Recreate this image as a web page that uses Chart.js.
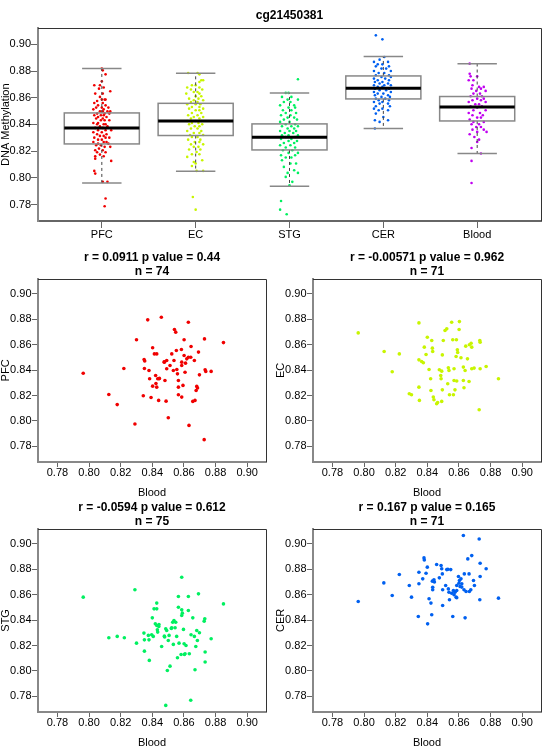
<!DOCTYPE html>
<html lang="en">
<head>
<meta charset="UTF-8" />
<title>cg21450381</title>
<script src="https://cdn.jsdelivr.net/npm/chart.js"></script>
<style>
    body { margin: 0; background: #fff; }
    #wrap { position: relative; width: 550px; height: 750px; }
    #wrap canvas { position: absolute; }
</style>
</head>
<body>
<div id="wrap">
    <canvas id="boxChart" width="550" height="245" style="left:0;top:0;width:550px;height:245px"></canvas>
    <canvas id="sc0" width="275" height="250" style="left:0;top:250px;width:275px;height:250px"></canvas>
    <canvas id="sc1" width="275" height="250" style="left:275px;top:250px;width:275px;height:250px"></canvas>
    <canvas id="sc2" width="275" height="250" style="left:0;top:500px;width:275px;height:250px"></canvas>
    <canvas id="sc3" width="275" height="250" style="left:275px;top:500px;width:275px;height:250px"></canvas>
</div>
<script>
// ---- data ----
const probe = 'cg21450381';
const categories = ['PFC', 'EC', 'STG', 'CER', 'Blood'];
const groupColors = ['#F00000', '#C8F500', '#00F060', '#0060F0', '#C000F0'];

const boxMin = [0.7962, 0.8049, 0.7937, 0.8369, 0.8182];
const boxQ1 = [0.8254, 0.8317, 0.8209, 0.8591, 0.8426];
const boxMedian = [0.8374, 0.8426, 0.8304, 0.8671, 0.8531];
const boxQ3 = [0.8486, 0.8558, 0.8404, 0.8763, 0.8609];
const boxMax = [0.8818, 0.8783, 0.8636, 0.8908, 0.8855];

const valueTicks = [0.78, 0.80, 0.82, 0.84, 0.86, 0.88, 0.90];
const valueMin = 0.7677;
const valueMax = 0.9119;

// jittered strip points: [x offset from group centre, methylation]
const pfcPoints = [
    [0.00, 0.8818], [0.01, 0.8805], [0.04, 0.8775], [0.00, 0.8723], [-0.08, 0.8693], [-0.02, 0.8693],
    [0.02, 0.8676], [-0.03, 0.8668], [0.09, 0.8648], [-0.07, 0.8631], [0.01, 0.8631], [-0.02, 0.8606],
    [0.00, 0.8586], [0.03, 0.8586], [0.04, 0.8586], [-0.05, 0.8576], [-0.08, 0.8561], [0.01, 0.8561],
    [-0.04, 0.8543], [0.04, 0.8543], [-0.06, 0.8526], [0.00, 0.8526], [0.07, 0.8526], [-0.09, 0.8513],
    [0.02, 0.8513], [-0.02, 0.8498], [0.01, 0.8498], [0.06, 0.8498], [0.09, 0.8498], [-0.05, 0.8481],
    [0.03, 0.8481], [0.08, 0.8481], [-0.08, 0.8469], [-0.01, 0.8469], [0.02, 0.8469], [-0.04, 0.8456],
    [0.05, 0.8456], [-0.06, 0.8444], [0.01, 0.8444], [-0.01, 0.8431], [0.03, 0.8431], [0.08, 0.8431],
    [-0.09, 0.8411], [-0.04, 0.8411], [-0.05, 0.8401], [0.02, 0.8401], [0.04, 0.8401], [-0.02, 0.8386],
    [0.06, 0.8386], [-0.07, 0.8374], [0.01, 0.8374], [-0.04, 0.8356], [0.04, 0.8356], [0.10, 0.8356],
    [-0.09, 0.8341], [0.00, 0.8341], [-0.05, 0.8326], [0.05, 0.8326], [-0.02, 0.8314], [0.02, 0.8314],
    [-0.08, 0.8301], [0.04, 0.8301], [0.08, 0.8301], [-0.04, 0.8286], [0.00, 0.8286], [-0.09, 0.8269],
    [0.02, 0.8269], [0.05, 0.8269], [-0.04, 0.8256], [0.07, 0.8256], [-0.06, 0.8244], [-0.01, 0.8244],
    [0.03, 0.8232], [0.09, 0.8232], [-0.03, 0.8219], [-0.07, 0.8207], [0.01, 0.8207], [-0.05, 0.8192],
    [0.04, 0.8192], [-0.02, 0.8174], [-0.07, 0.8162], [0.02, 0.8162], [-0.07, 0.8144], [0.10, 0.8127],
    [-0.08, 0.8052], [-0.07, 0.8032], [0.01, 0.7970], [0.06, 0.7970], [0.04, 0.7845], [0.03, 0.7787]
];
const ecPoints = [
    [-0.08, 0.8785], [0.02, 0.8785], [0.04, 0.8775], [0.08, 0.8731], [0.06, 0.8731], [0.04, 0.8718],
    [-0.04, 0.8693], [0.00, 0.8693], [-0.09, 0.8676], [0.04, 0.8676], [-0.05, 0.8661], [0.07, 0.8661],
    [-0.02, 0.8643], [0.02, 0.8643], [-0.10, 0.8631], [0.04, 0.8631], [0.00, 0.8611], [0.06, 0.8611],
    [-0.07, 0.8593], [0.03, 0.8593], [-0.02, 0.8581], [0.08, 0.8581], [-0.05, 0.8568], [0.02, 0.8568],
    [-0.09, 0.8551], [0.00, 0.8551], [0.05, 0.8551], [-0.04, 0.8531], [0.04, 0.8531], [-0.07, 0.8518],
    [0.08, 0.8518], [0.00, 0.8506], [0.04, 0.8506], [-0.04, 0.8486], [0.06, 0.8486], [-0.08, 0.8469],
    [0.02, 0.8469], [-0.02, 0.8456], [0.08, 0.8456], [-0.05, 0.8444], [0.04, 0.8444], [-0.09, 0.8426],
    [0.00, 0.8426], [0.06, 0.8426], [-0.04, 0.8411], [0.03, 0.8411], [-0.07, 0.8401], [0.07, 0.8401],
    [-0.01, 0.8386], [0.04, 0.8386], [-0.05, 0.8369], [0.02, 0.8369], [-0.09, 0.8351], [0.06, 0.8351],
    [-0.02, 0.8336], [0.04, 0.8336], [-0.06, 0.8321], [0.08, 0.8321], [-0.04, 0.8306], [0.02, 0.8306],
    [-0.08, 0.8286], [0.05, 0.8286], [-0.01, 0.8269], [0.04, 0.8269], [-0.05, 0.8251], [0.08, 0.8251],
    [-0.02, 0.8232], [0.03, 0.8232], [-0.07, 0.8212], [0.05, 0.8212], [0.01, 0.8194], [-0.04, 0.8177],
    [0.04, 0.8177], [-0.09, 0.8157], [0.07, 0.8132], [-0.02, 0.8119], [0.00, 0.8107], [-0.04, 0.8089],
    [0.01, 0.8052], [0.08, 0.8052], [-0.03, 0.7857], [0.00, 0.7762]
];
const stgPoints = [
    [0.09, 0.8738], [-0.04, 0.8636], [-0.01, 0.8636], [-0.08, 0.8606], [0.02, 0.8606], [-0.02, 0.8586],
    [0.09, 0.8586], [-0.06, 0.8568], [0.01, 0.8568], [-0.10, 0.8543], [0.05, 0.8543], [-0.01, 0.8526],
    [0.06, 0.8526], [-0.07, 0.8506], [0.02, 0.8506], [-0.04, 0.8486], [0.07, 0.8486], [-0.09, 0.8469],
    [0.01, 0.8469], [0.05, 0.8451], [-0.02, 0.8451], [-0.06, 0.8436], [0.08, 0.8436], [0.00, 0.8419],
    [-0.10, 0.8419], [-0.04, 0.8401], [0.06, 0.8401], [-0.08, 0.8386], [0.02, 0.8386], [0.09, 0.8386],
    [-0.02, 0.8369], [0.05, 0.8369], [-0.10, 0.8351], [0.00, 0.8351], [0.07, 0.8351], [-0.05, 0.8336],
    [0.04, 0.8336], [-0.08, 0.8319], [-0.01, 0.8319], [0.09, 0.8319], [-0.04, 0.8306], [0.06, 0.8306],
    [-0.09, 0.8291], [0.02, 0.8291], [-0.01, 0.8276], [0.08, 0.8276], [-0.06, 0.8261], [0.05, 0.8261],
    [-0.10, 0.8244], [0.01, 0.8244], [-0.04, 0.8227], [0.06, 0.8227], [-0.07, 0.8207], [0.03, 0.8207],
    [-0.01, 0.8187], [0.09, 0.8187], [-0.09, 0.8169], [0.06, 0.8169], [-0.04, 0.8152], [0.02, 0.8152],
    [-0.08, 0.8132], [0.01, 0.8107], [0.07, 0.8107], [-0.06, 0.8082], [0.05, 0.8057], [-0.02, 0.8037],
    [0.09, 0.8037], [-0.04, 0.8007], [0.03, 0.7970], [0.00, 0.7945], [-0.09, 0.7827], [-0.10, 0.7762],
    [-0.03, 0.7728]
];
const cerPoints = [
    [-0.08, 0.9067], [-0.01, 0.9037], [0.01, 0.8905], [-0.04, 0.8885], [-0.10, 0.8868], [0.05, 0.8868],
    [-0.06, 0.8850], [-0.01, 0.8850], [0.06, 0.8835], [-0.08, 0.8835], [-0.02, 0.8818], [0.03, 0.8818],
    [-0.10, 0.8800], [0.08, 0.8800], [-0.05, 0.8785], [0.01, 0.8785], [-0.08, 0.8768], [0.06, 0.8768],
    [-0.02, 0.8755], [0.08, 0.8755], [-0.10, 0.8743], [0.02, 0.8743], [-0.06, 0.8731], [0.06, 0.8731],
    [-0.01, 0.8718], [-0.09, 0.8718], [-0.04, 0.8706], [0.05, 0.8706], [-0.10, 0.8693], [0.01, 0.8693],
    [0.08, 0.8693], [-0.06, 0.8681], [-0.01, 0.8681], [-0.09, 0.8668], [0.06, 0.8668], [-0.04, 0.8656],
    [0.03, 0.8656], [-0.10, 0.8643], [0.08, 0.8643], [-0.06, 0.8631], [0.00, 0.8631], [-0.09, 0.8618],
    [0.05, 0.8618], [-0.02, 0.8606], [0.07, 0.8606], [-0.08, 0.8593], [0.02, 0.8593], [-0.05, 0.8581],
    [0.06, 0.8581], [-0.10, 0.8568], [-0.01, 0.8568], [-0.04, 0.8556], [0.05, 0.8556], [-0.08, 0.8536],
    [0.07, 0.8536], [-0.10, 0.8518], [-0.01, 0.8518], [-0.05, 0.8506], [0.05, 0.8506], [-0.08, 0.8481],
    [0.00, 0.8456], [-0.09, 0.8431], [0.05, 0.8431], [-0.04, 0.8419], [-0.09, 0.8369]
];
const bloodPoints = [
    [-0.08, 0.8855], [-0.08, 0.8780], [-0.07, 0.8760], [0.00, 0.8760], [-0.09, 0.8731], [-0.04, 0.8731],
    [-0.05, 0.8693], [0.02, 0.8681], [0.07, 0.8681], [-0.06, 0.8668], [0.04, 0.8668], [-0.01, 0.8651],
    [0.09, 0.8651], [-0.04, 0.8631], [0.03, 0.8631], [-0.07, 0.8611], [0.05, 0.8611], [0.00, 0.8593],
    [0.07, 0.8593], [-0.05, 0.8581], [0.04, 0.8581], [-0.09, 0.8568], [0.09, 0.8568], [-0.02, 0.8551],
    [0.02, 0.8551], [-0.07, 0.8536], [0.05, 0.8536], [0.00, 0.8526], [-0.04, 0.8506], [0.09, 0.8506],
    [-0.09, 0.8486], [0.03, 0.8486], [-0.05, 0.8469], [0.06, 0.8469], [0.00, 0.8451], [0.04, 0.8451],
    [-0.08, 0.8436], [-0.04, 0.8419], [0.07, 0.8419], [-0.06, 0.8401], [0.02, 0.8401], [-0.01, 0.8381],
    [0.04, 0.8381], [-0.05, 0.8361], [0.07, 0.8361], [0.00, 0.8344], [0.10, 0.8344], [-0.08, 0.8326],
    [-0.03, 0.8306], [0.02, 0.8286], [0.00, 0.8269], [-0.06, 0.8224], [0.04, 0.8182], [-0.06, 0.8127],
    [-0.06, 0.7962]
];
const stripPoints = [pfcPoints, ecPoints, stgPoints, cerPoints, bloodPoints];

// scatter panels: [Blood, region]
const pfcVsBlood = [
    [0.7963, 0.8376], [0.8125, 0.8208], [0.8178, 0.8129], [0.8220, 0.8413], [0.8290, 0.7976], [0.8300, 0.8639],
    [0.8343, 0.8198], [0.8348, 0.8484], [0.8352, 0.8472], [0.8350, 0.8413], [0.8371, 0.8796], [0.8379, 0.8397],
    [0.8383, 0.8332], [0.8392, 0.8185], [0.8402, 0.8576], [0.8402, 0.8274], [0.8413, 0.8528], [0.8428, 0.8528],
    [0.8421, 0.8358], [0.8423, 0.8295], [0.8428, 0.8266], [0.8434, 0.8332], [0.8442, 0.8332], [0.8440, 0.8162],
    [0.8457, 0.8816], [0.8476, 0.8463], [0.8480, 0.8319], [0.8487, 0.8156], [0.8491, 0.8476], [0.8491, 0.8411],
    [0.8501, 0.8025], [0.8512, 0.8437], [0.8523, 0.8528], [0.8533, 0.8397], [0.8537, 0.8476], [0.8540, 0.8720],
    [0.8548, 0.8699], [0.8552, 0.8555], [0.8559, 0.8371], [0.8565, 0.8319], [0.8565, 0.8266], [0.8565, 0.8206],
    [0.8584, 0.8563], [0.8586, 0.8463], [0.8586, 0.8437], [0.8586, 0.8188], [0.8594, 0.8280], [0.8601, 0.8515],
    [0.8601, 0.8639], [0.8607, 0.8384], [0.8618, 0.8489], [0.8628, 0.8502], [0.8628, 0.8777], [0.8632, 0.7965],
    [0.8643, 0.8502], [0.8645, 0.8586], [0.8656, 0.8154], [0.8666, 0.8476], [0.8670, 0.8162], [0.8677, 0.8240],
    [0.8681, 0.8272], [0.8686, 0.8260], [0.8692, 0.8542], [0.8698, 0.8363], [0.8728, 0.7853], [0.8730, 0.8646],
    [0.8734, 0.8403], [0.8738, 0.8390], [0.8772, 0.8390], [0.8850, 0.8617], [0.8610, 0.8455], [0.8445, 0.8335],
    [0.8555, 0.8405], [0.8475, 0.8465]
];
const ecVsBlood = [
    [0.7963, 0.8693], [0.8127, 0.8547], [0.8178, 0.8387], [0.8223, 0.8528], [0.8286, 0.8214], [0.8300, 0.8206],
    [0.8347, 0.8772], [0.8347, 0.8266], [0.8350, 0.8162], [0.8347, 0.8481], [0.8364, 0.8468], [0.8375, 0.8458],
    [0.8381, 0.8581], [0.8392, 0.8523], [0.8400, 0.8659], [0.8411, 0.8405], [0.8421, 0.8332], [0.8423, 0.8240],
    [0.8428, 0.8633], [0.8432, 0.8573], [0.8434, 0.8547], [0.8438, 0.8188], [0.8442, 0.8167], [0.8459, 0.8135],
    [0.8476, 0.8403], [0.8485, 0.8358], [0.8487, 0.8332], [0.8491, 0.8154], [0.8491, 0.8392], [0.8495, 0.8520],
    [0.8495, 0.8245], [0.8501, 0.8633], [0.8512, 0.8712], [0.8523, 0.8725], [0.8529, 0.8293], [0.8533, 0.8418],
    [0.8537, 0.8397], [0.8540, 0.8206], [0.8554, 0.8777], [0.8561, 0.8639], [0.8565, 0.8206], [0.8569, 0.8411],
    [0.8569, 0.8319], [0.8584, 0.8639], [0.8582, 0.8507], [0.8586, 0.8314], [0.8590, 0.8560], [0.8592, 0.8539],
    [0.8601, 0.8720], [0.8603, 0.8782], [0.8613, 0.8497], [0.8628, 0.8424], [0.8628, 0.8319], [0.8632, 0.8261],
    [0.8639, 0.8397], [0.8643, 0.8589], [0.8654, 0.8489], [0.8664, 0.8311], [0.8666, 0.8600], [0.8677, 0.8612],
    [0.8681, 0.8581], [0.8681, 0.8411], [0.8696, 0.8416], [0.8728, 0.8088], [0.8732, 0.8633], [0.8734, 0.8411],
    [0.8772, 0.8429], [0.8850, 0.8332], [0.8734, 0.8620], [0.8575, 0.8245], [0.8465, 0.8145]
];
const stgVsBlood = [
    [0.7963, 0.8581], [0.8125, 0.8261], [0.8178, 0.8272], [0.8223, 0.8261], [0.8290, 0.8639], [0.8300, 0.8219],
    [0.8347, 0.8298], [0.8350, 0.8245], [0.8350, 0.8156], [0.8375, 0.8280], [0.8379, 0.8245], [0.8381, 0.8083],
    [0.8396, 0.8285], [0.8400, 0.8418], [0.8406, 0.8272], [0.8411, 0.8489], [0.8419, 0.8371], [0.8428, 0.8489],
    [0.8428, 0.8534], [0.8428, 0.8358], [0.8432, 0.8324], [0.8434, 0.8306], [0.8442, 0.8366], [0.8459, 0.8193],
    [0.8476, 0.8274], [0.8485, 0.8332], [0.8485, 0.7729], [0.8491, 0.8319], [0.8495, 0.8004], [0.8501, 0.8240],
    [0.8506, 0.8280], [0.8512, 0.8038], [0.8523, 0.8340], [0.8529, 0.8384], [0.8533, 0.8209], [0.8537, 0.8397],
    [0.8544, 0.8340], [0.8548, 0.8384], [0.8554, 0.8272], [0.8559, 0.8104], [0.8565, 0.8586], [0.8565, 0.8502],
    [0.8569, 0.8219], [0.8582, 0.8130], [0.8586, 0.8738], [0.8586, 0.8481], [0.8586, 0.8437], [0.8590, 0.8455],
    [0.8597, 0.8327], [0.8601, 0.8214], [0.8607, 0.8135], [0.8613, 0.8201], [0.8628, 0.8586], [0.8628, 0.8476],
    [0.8634, 0.8135], [0.8643, 0.7769], [0.8645, 0.8285], [0.8656, 0.8418], [0.8666, 0.8272], [0.8670, 0.8010],
    [0.8675, 0.8193], [0.8681, 0.8319], [0.8685, 0.8240], [0.8692, 0.8607], [0.8698, 0.8301], [0.8728, 0.8392],
    [0.8732, 0.8411], [0.8734, 0.8149], [0.8734, 0.8070], [0.8772, 0.8253], [0.8850, 0.8528], [0.8603, 0.8130],
    [0.8441, 0.8350], [0.8520, 0.8335], [0.8478, 0.8268]
];
const cerVsBlood = [
    [0.7963, 0.8547], [0.8125, 0.8693], [0.8178, 0.8594], [0.8223, 0.8759], [0.8286, 0.8673], [0.8300, 0.8581],
    [0.8343, 0.8429], [0.8347, 0.8777], [0.8347, 0.8686], [0.8371, 0.8725], [0.8379, 0.8890], [0.8381, 0.8874],
    [0.8392, 0.8769], [0.8400, 0.8817], [0.8402, 0.8371], [0.8411, 0.8568], [0.8423, 0.8534], [0.8428, 0.8442],
    [0.8432, 0.8707], [0.8434, 0.8659], [0.8434, 0.8639], [0.8442, 0.8717], [0.8459, 0.8838], [0.8476, 0.8733],
    [0.8487, 0.8830], [0.8491, 0.8804], [0.8495, 0.8764], [0.8497, 0.8639], [0.8497, 0.8515], [0.8516, 0.8673],
    [0.8523, 0.8798], [0.8533, 0.8646], [0.8537, 0.8620], [0.8540, 0.8560], [0.8548, 0.8798], [0.8554, 0.8612],
    [0.8561, 0.8429], [0.8565, 0.8633], [0.8569, 0.8600], [0.8582, 0.8581], [0.8586, 0.8633], [0.8586, 0.8673],
    [0.8586, 0.8576], [0.8597, 0.8743], [0.8603, 0.8712], [0.8607, 0.8665], [0.8613, 0.8725], [0.8618, 0.8686],
    [0.8628, 0.9066], [0.8632, 0.8639], [0.8634, 0.8764], [0.8639, 0.8418], [0.8645, 0.8625], [0.8656, 0.8882],
    [0.8664, 0.8764], [0.8666, 0.8625], [0.8675, 0.8639], [0.8681, 0.8908], [0.8692, 0.8712], [0.8698, 0.8673],
    [0.8728, 0.9039], [0.8732, 0.8560], [0.8734, 0.8848], [0.8734, 0.8743], [0.8772, 0.8804], [0.8850, 0.8573],
    [0.8618, 0.8660], [0.8575, 0.8620], [0.8530, 0.8800], [0.8600, 0.8690], [0.8445, 0.8700]
];
const scatterSets = [pfcVsBlood, ecVsBlood, stgVsBlood, cerVsBlood];
const scatterRegions = ['PFC', 'EC', 'STG', 'CER'];
const rValues = ['0.0911', '-0.00571', '-0.0594', '0.167'];
const pValues = ['0.44', '0.962', '0.612', '0.165'];
const nValues = [74, 71, 75, 71];

// ---- drawing ----
Chart.defaults.font.family = '"Liberation Sans", Arial, sans-serif';
Chart.defaults.color = '#000';

const frame = {
    id: 'frame',
    afterDraw(chart) {
        const { ctx, chartArea: a } = chart;
        ctx.save();
        ctx.strokeStyle = '#333';
        ctx.lineWidth = 1;
        ctx.beginPath();
        ctx.moveTo(a.left, Math.round(a.top) + 0.5);
        ctx.lineTo(Math.round(a.right) + 0.5, Math.round(a.top) + 0.5);
        ctx.lineTo(Math.round(a.right) + 0.5, a.bottom);
        ctx.stroke();
        ctx.restore();
    }
};

const boxes = {
    id: 'boxes',
    afterDatasetsDraw(chart) {
        const { ctx } = chart;
        const xs = chart.scales.x;
        const ys = chart.scales.y;
        const seg = (x1, y1, x2, y2) => {
            ctx.beginPath();
            ctx.moveTo(x1, y1);
            ctx.lineTo(x2, y2);
            ctx.stroke();
        };
        ctx.save();
        categories.forEach((c, i) => {
            const cx = xs.getPixelForValue(i + 1);
            const bl = xs.getPixelForValue(i + 0.6);
            const br = xs.getPixelForValue(i + 1.4);
            const cl = xs.getPixelForValue(i + 0.79);
            const cr = xs.getPixelForValue(i + 1.21);
            const yMin = ys.getPixelForValue(boxMin[i]);
            const yQ1 = ys.getPixelForValue(boxQ1[i]);
            const yMed = ys.getPixelForValue(boxMedian[i]);
            const yQ3 = ys.getPixelForValue(boxQ3[i]);
            const yMax = ys.getPixelForValue(boxMax[i]);

            ctx.strokeStyle = '#444';
            ctx.lineWidth = 1;
            ctx.setLineDash([3, 3]);
            seg(cx, yQ3, cx, yMax);
            seg(cx, yQ1, cx, yMin);
            ctx.setLineDash([]);

            ctx.strokeStyle = '#888';
            ctx.lineWidth = 1.5;
            seg(cl, yMax, cr, yMax);
            seg(cl, yMin, cr, yMin);
            ctx.strokeRect(bl, yQ3, br - bl, yQ1 - yQ3);

            ctx.strokeStyle = '#000';
            ctx.lineWidth = 3;
            seg(bl, yMed, br, yMed);
        });
        ctx.restore();
    }
};

function valueAxis(tickLength, padding, title) {
    return {
        type: 'linear',
        min: valueMin,
        max: valueMax,
        afterBuildTicks: (scale) => { scale.ticks = valueTicks.map((v) => ({ value: v })); },
        ticks: { callback: (v) => v.toFixed(2), font: { size: 11, lineHeight: 1 }, padding: padding, color: '#000' },
        grid: { drawOnChartArea: false, drawTicks: true, tickLength: tickLength, color: '#666' },
        border: { display: true, color: '#888', width: 2 },
        title: title
    };
}

// top panel: boxplot with jittered points
new Chart(document.getElementById('boxChart'), {
    type: 'scatter',
    data: {
        datasets: stripPoints.map((pts, i) => ({
            label: categories[i],
            data: pts.map(([off, v]) => ({ x: i + 1 + off, y: v })),
            pointRadius: 1.3,
            pointBorderWidth: 0,
            pointBackgroundColor: groupColors[i]
        }))
    },
    options: {
        responsive: false,
        animation: false,
        events: [],
        layout: { padding: { left: 0, right: 9, top: 0, bottom: 0 } },
        plugins: {
            legend: { display: false },
            tooltip: { enabled: false },
            title: {
                display: true,
                text: probe,
                fullSize: false,
                font: { size: 12, weight: 'bold', lineHeight: 1.2 },
                padding: { top: 8, bottom: 6 },
                color: '#000'
            }
        },
        scales: {
            x: {
                type: 'linear',
                min: 0.32,
                max: 5.68,
                afterBuildTicks: (scale) => { scale.ticks = categories.map((c, i) => ({ value: i + 1 })); },
                afterFit: (scale) => { scale.height = 24; },
                ticks: { callback: (v) => categories[v - 1], font: { size: 11, lineHeight: 1 }, padding: 1.5, color: '#000' },
                grid: { drawOnChartArea: false, drawTicks: true, tickLength: 7, color: '#666' },
                border: { display: true, color: '#666', width: 2 }
            },
            y: Object.assign(valueAxis(7, 0, {
                display: true,
                text: 'DNA Methylation',
                font: { size: 11, lineHeight: 1 },
                padding: { top: 0, bottom: 0 },
                color: '#000'
            }), { afterFit: (scale) => { scale.width = 38; } })
        }
    },
    plugins: [boxes, frame]
});

// four Blood scatter panels
scatterSets.forEach((pairs, k) => {
    const color = groupColors[k];
    new Chart(document.getElementById('sc' + k), {
        type: 'scatter',
        data: {
            datasets: [{
                label: scatterRegions[k],
                data: pairs.map(([b, r]) => ({ x: b, y: r })),
                pointRadius: 1.8,
                pointBorderWidth: 0,
                pointBackgroundColor: color
            }]
        },
        options: {
            responsive: false,
            animation: false,
            events: [],
            layout: { padding: { left: 0, right: 9, top: 0, bottom: 0 } },
            plugins: {
                legend: { display: false },
                tooltip: { enabled: false },
                title: {
                    display: true,
                    text: ['r = ' + rValues[k] + ' p value = ' + pValues[k], 'n = ' + nValues[k]],
                    fullSize: false,
                    font: { size: 12, weight: 'bold', lineHeight: 1.2 },
                    padding: { top: 0, bottom: 0 },
                    color: '#000'
                }
            },
            scales: {
                x: Object.assign(valueAxis(5, 0.5, {
                    display: true,
                    text: 'Blood',
                    font: { size: 11, lineHeight: 1.2 },
                    padding: { top: 0, bottom: 0 },
                    color: '#000'
                }), { afterFit: (scale) => { scale.height = 38; } }),
                y: Object.assign(valueAxis(6, 0.5, {
                    display: true,
                    text: scatterRegions[k],
                    font: { size: 11, lineHeight: 1 },
                    padding: { top: 0, bottom: 0 },
                    color: '#000'
                }), { afterFit: (scale) => { scale.width = 38; } })
            }
        },
        plugins: [frame]
    });
});
</script>
</body>
</html>
